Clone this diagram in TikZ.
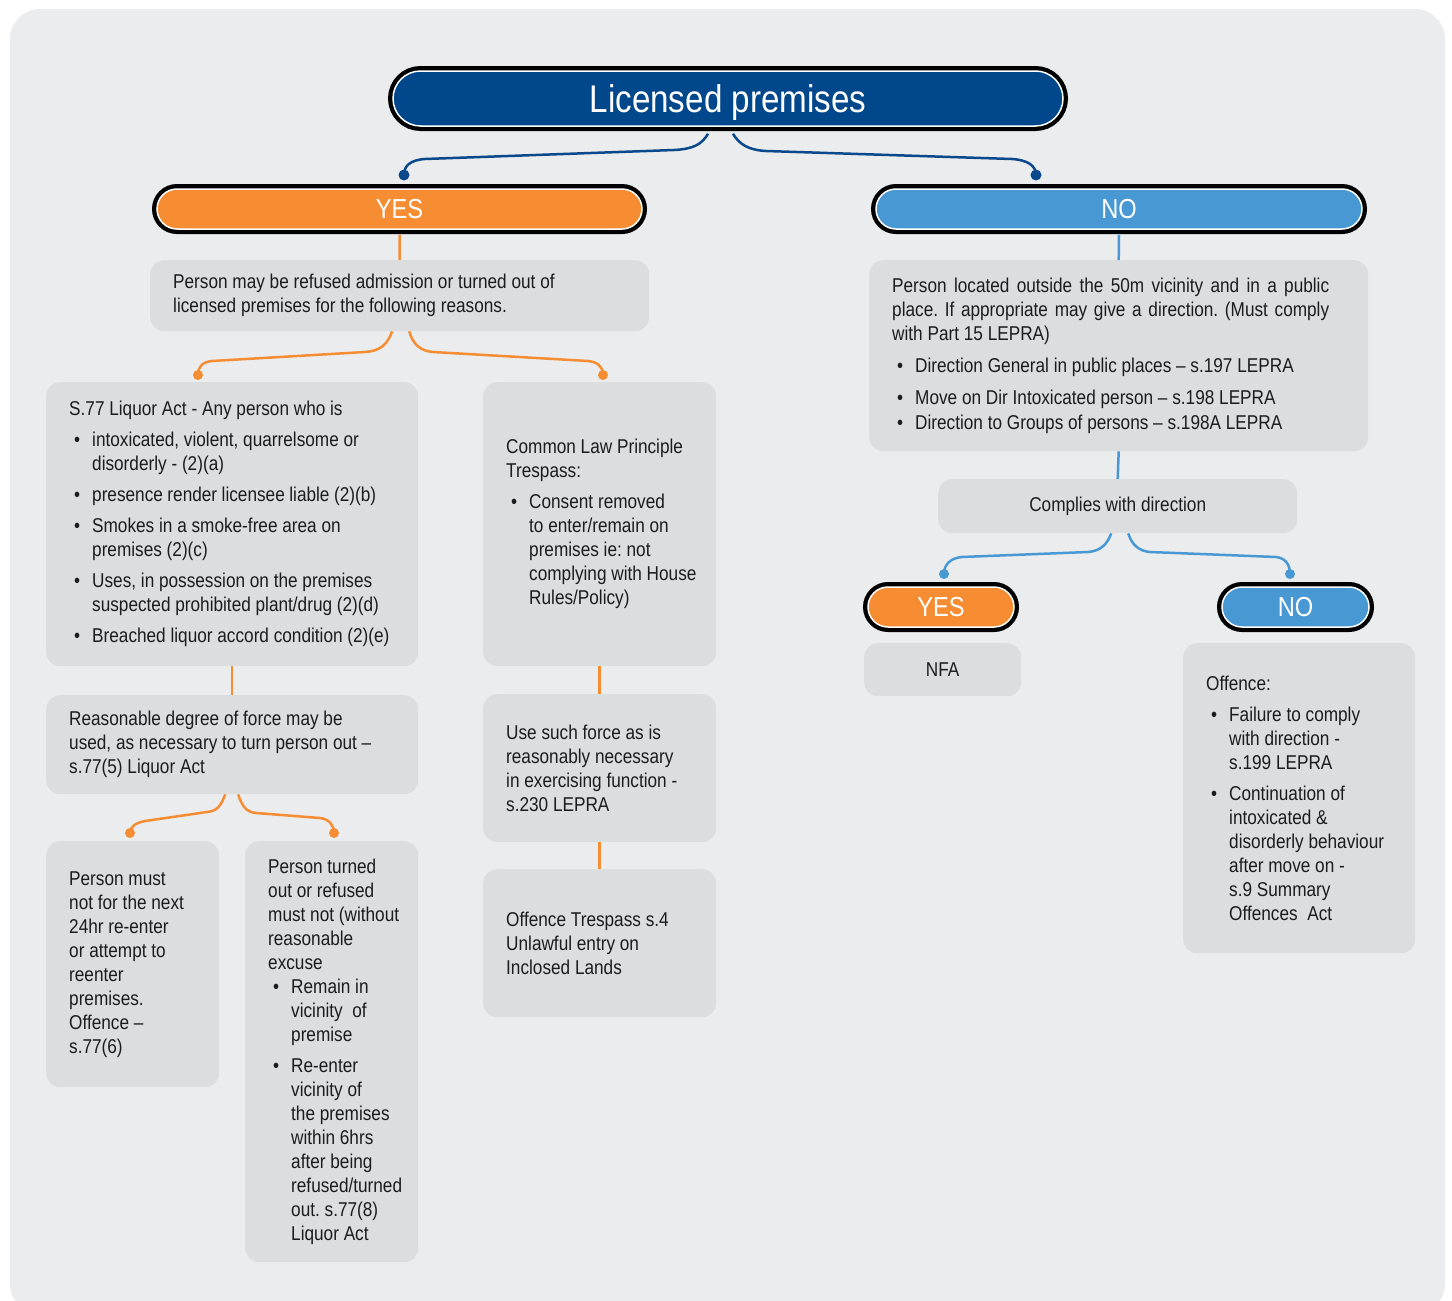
\documentclass[tikz,border=0pt]{standalone}
\usepackage{fontspec}
\setmainfont{Liberation Sans}[FakeStretch=0.86]
\usepackage{tikz}
\usetikzlibrary{positioning}

\definecolor{pagegrey}{RGB}{235,236,238}
\definecolor{boxgrey}{RGB}{220,221,223}
\definecolor{navy}{RGB}{0,71,139}
\definecolor{linknavy}{RGB}{10,72,140}
\definecolor{yesorange}{RGB}{246,141,51}
\definecolor{noblue}{RGB}{72,152,211}
\definecolor{inktext}{RGB}{28,28,28}

\newcommand{\bodyfont}{\fontsize{20}{24}\selectfont}
\newcommand{\pillfont}{\fontsize{27.5}{30}\selectfont}
\newcommand{\titlefont}{\fontsize{38.6}{44}\selectfont}
\newcommand{\bpt}[1][7pt]{\par\vspace{#1}\hangindent=23pt\hangafter=1\noindent\makebox[23pt][l]{\hspace{5pt}\textbullet}\ignorespaces}

\tikzset{
    greybox/.style={fill=boxgrey, rounded corners=14pt, anchor=north west, font=\bodyfont, text=inktext},
    listbox/.style={greybox, inner xsep=23pt, inner ysep=0pt, align=left,
        execute at begin node={\rightskip=-20pt plus 1fil\spaceskip=0pt\xspaceskip=0pt\frenchspacing\relax}},
    greytag/.style={greybox, inner sep=0pt},
    pill/.style={rectangle, rounded corners=20pt, minimum height=40pt, inner sep=0pt, text=white,
        font=\pillfont, text depth=0pt, preaction={draw=black, line width=10pt}, draw=white, line width=1.5pt},
    navylink/.style={draw=linknavy, line width=2.5pt},
    orangelink/.style={draw=yesorange, line width=2.5pt},
    bluelink/.style={draw=noblue, line width=2.5pt}
}

\begin{document}
\begin{tikzpicture}[x=1pt, y=-1pt]
    \useasboundingbox (0,0) rectangle (1452,1301);
    \fill[pagegrey, rounded corners=30pt] (10,9) rectangle (1445,1314);

    % pills
    \node[pill, minimum width=670pt, minimum height=55pt, rounded corners=27.5pt, fill=navy, font=\titlefont] (title) at (728,98.5) {Licensed premises};
    \node[pill, minimum width=485pt, fill=yesorange] (yesA) at (399.5,209) {YES};
    \node[pill, minimum width=486pt, fill=noblue] (noA) at (1119,209) {NO};
    \node[pill, minimum width=146pt, fill=yesorange] (yesB) at (941,607) {YES};
    \node[pill, minimum width=147pt, fill=noblue] (noB) at (1295.5,607) {NO};

    % left side
    \node[listbox, text width=453pt, minimum height=71pt] (reasons) at (150,260)
        {Person may be refused admission or turned out of\\licensed premises for the following reasons.};
    \node[listbox, text width=326pt, minimum height=284pt] (liquor) at (46,382)
        {S.77 Liquor Act - Any person who is
         \bpt intoxicated, violent, quarrelsome or\newline disorderly - (2)(a)
         \bpt \makebox[284pt][s]{presence render licensee liable (2)(b)}
         \bpt Smokes in a smoke-free area on\newline premises (2)(c)
         \bpt Uses, in possession on the premises\newline suspected prohibited plant/drug (2)(d)
         \bpt Breached liquor accord condition (2)(e)\par};
    \node[listbox, text width=187pt, minimum height=284pt] (trespass) at (483,382)
        {Common Law Principle\\Trespass:
         \bpt Consent removed\newline to enter/remain on\newline premises ie: not\newline complying with House\newline Rules/Policy)\par};
    \node[listbox, text width=326pt, minimum height=99pt] (force) at (46,695)
        {Reasonable degree of force may be\\used, as necessary to turn person out –\\s.77(5) Liquor Act};
    \node[listbox, text width=187pt, minimum height=148pt] (lepraforce) at (483,694)
        {Use such force as is\\reasonably necessary\\in exercising function -\\s.230 LEPRA};
    \node[listbox, text width=127pt, minimum height=246pt] (reenter) at (46,841)
        {Person must\\not for the next\\24hr re-enter\\or attempt to\\reenter\\premises.\\Offence –\\s.77(6)};
    \node[listbox, text width=127pt, minimum height=421pt] (vicinity) at (245,841)
        {Person turned\\out or refused\\must not (without\\reasonable\\excuse
         \bpt[0pt] Remain in\newline vicinity~~of\newline premise
         \bpt Re-enter\newline vicinity of\newline the premises\newline within 6hrs\newline after being\newline refused/turned\newline out. s.77(8)\newline Liquor Act\par};
    \node[listbox, text width=187pt, minimum height=148pt] (inclosed) at (483,869)
        {Offence Trespass s.4\\Unlawful entry on\\Inclosed Lands};

    % right side
    \node[listbox, text width=453pt, minimum height=191pt] (publicplace) at (869,260)
        {\makebox[437pt][s]{Person located outside the 50m vicinity and in a public}\\\makebox[437pt][s]{place. If appropriate may give a direction. (Must comply}\\with Part 15 LEPRA)
         \bpt[8pt] Direction General in public places – s.197 LEPRA
         \bpt[8pt] Move on Dir Intoxicated person – s.198 LEPRA
         \bpt[1pt] Direction to Groups of persons – s.198A LEPRA\par};
    \node[greytag, minimum width=359pt, minimum height=54pt] (complies) at (938,479) {Complies with direction};
    \node[greytag, minimum width=157pt, minimum height=53pt] (nfa) at (864,643) {NFA};
    \node[listbox, text width=186pt, minimum height=310pt] (offence) at (1183,643)
        {Offence:
         \bpt Failure to comply\newline with direction -\newline s.199 LEPRA
         \bpt Continuation of\newline intoxicated \&\newline disorderly behaviour\newline after move on -\newline s.9 Summary\newline Offences~~Act\par};

    % dots above the children
    \coordinate (yesdot) at (404,175);
    \coordinate (nodot) at (1036,175);
    \coordinate (liquordot) at (198,375);
    \coordinate (trespassdot) at (603,375);
    \coordinate (reenterdot) at (130,833);
    \coordinate (vicinitydot) at (334,833);
    \coordinate (compyesdot) at (944,574);
    \coordinate (compnodot) at (1290,574);

    % braces
    \draw[navylink] ([xshift=-20pt,yshift=-7pt]title.south) .. controls (702,144) and (694,149) .. (674,150)
        -- (425,159) .. controls (410,160) and (404,166) .. (yesdot);
    \draw[navylink] ([xshift=5pt,yshift=-7pt]title.south) .. controls (739,144) and (748,150) .. (766,151)
        -- (1012,159) .. controls (1028,160) and (1036,166) .. (nodot);
    \draw[orangelink] ([xshift=-7.5pt]reasons.south) .. controls (387,345) and (380,351) .. (365,352)
        -- (212,361) .. controls (203,362) and (198,366) .. (liquordot);
    \draw[orangelink] ([xshift=9.5pt]reasons.south) .. controls (413,344) and (420,351) .. (433,352)
        -- (588,361) .. controls (597,362) and (603,366) .. (trespassdot);
    \draw[orangelink] ([xshift=-7pt]force.south) .. controls (221,806) and (217,811) .. (207,812)
        -- (145,821) .. controls (135,823) and (130,827) .. (reenterdot);
    \draw[orangelink] ([xshift=6pt]force.south) .. controls (242,806) and (246,812) .. (256,813)
        -- (320,818) .. controls (329,819) and (334,825) .. (vicinitydot);
    \draw[bluelink] ([xshift=-6.5pt]complies.south) .. controls (1107,545) and (1100,551) .. (1088,552)
        -- (962,557) .. controls (951,558) and (944,564) .. (compyesdot);
    \draw[bluelink] ([xshift=10.5pt]complies.south) .. controls (1132,545) and (1139,551) .. (1150,552)
        -- (1276,557) .. controls (1285,558) and (1290,564) .. (compnodot);

    \fill[linknavy] (yesdot) circle (5.5pt) (nodot) circle (5.5pt);
    \foreach \d in {liquordot,trespassdot,reenterdot,vicinitydot}
        \fill[yesorange] (\d) circle (5pt);
    \foreach \d in {compyesdot,compnodot}
        \fill[noblue] (\d) circle (5pt);

    % straight links
    \draw[orangelink] ([yshift=-5pt]yesA.south) -- (reasons.north);
    \draw[orangelink] (liquor.south) -- (force.north);
    \draw[orangelink] (trespass.south) -- (lepraforce.north);
    \draw[orangelink] (lepraforce.south) -- (inclosed.north);
    \draw[bluelink] ([yshift=-5pt]noA.south) -- (publicplace.north);
    \draw[bluelink] (publicplace.south) -- (complies.north);
\end{tikzpicture}
\end{document}
